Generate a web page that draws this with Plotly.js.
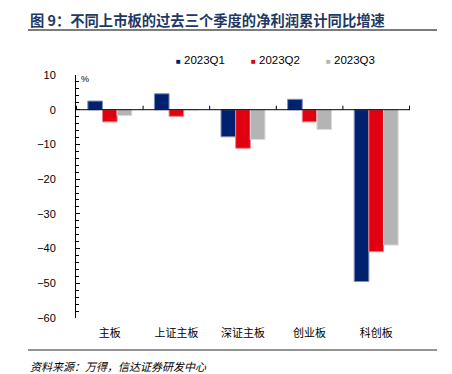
<!DOCTYPE html>
<html>
<head>
<meta charset="utf-8">
<script src="https://cdn.plot.ly/plotly-3.0.1.min.js"></script>
<style>html,body{margin:0;padding:0;background:#fff;}#chart{width:452px;height:374px;}</style>
</head>
<body>
<div id="chart"></div>
<script>
const categories = ["主板", "上证主板", "深证主板", "创业板", "科创板"];
const seriesNames = ["2023Q1", "2023Q2", "2023Q3"];
const q1 = [2.5, 4.6, -7.8, 3.0, -49.5];
const q2 = [-3.5, -1.9, -11.1, -3.5, -40.9];
const q3 = [-1.7, 0.0, -8.6, -5.7, -39.0];
const yTicks = [10, 0, -10, -20, -30, -40, -50, -60];
const yTickText = ["10", "0", "\u221210", "\u221220", "\u221230", "\u221240", "\u221250", "\u221260"];

const colors = ["#002070", "#e00010", "#b4b4b4"];
const edges = ["#8090c0", "#f08088", "#dcdcdc"];
const series = [q1, q2, q3];

const traces = series.map((vals, i) => ({
  type: "bar",
  name: seriesNames[i],
  x: categories,
  y: vals,
  marker: {color: colors[i], line: {color: edges[i], width: 1}},
  hoverinfo: "skip"
}));

const cjk = '"Noto Sans CJK SC", "Noto Sans", sans-serif';
const latin = '"Liberation Sans", Arial, sans-serif';

const shapes = [
  {type: "line", xref: "paper", yref: "paper", x0: -0.1437, x1: 1.081, y0: 1.185, y1: 1.185, line: {color: "#505050", width: 1.5}},
  {type: "line", xref: "paper", yref: "paper", x0: -0.1437, x1: 1.081, y0: -0.132, y1: -0.132, line: {color: "#707070", width: 1.5}},
  {type: "line", xref: "paper", yref: "y", x0: 0, x1: 1, y0: 0, y1: 0, line: {color: "#000", width: 1}, layer: "above"}
];
for (let k = 0; k <= categories.length; k++) {
  shapes.push({type: "line", xref: "x", yref: "y", ysizemode: "pixel", yanchor: 0,
    x0: k - 0.5, x1: k - 0.5, y0: 0, y1: 4, line: {color: "#000", width: 1}, layer: "above"});
}

const legendAnn = seriesNames.map((n, i) => ({
  xref: "paper", yref: "paper", x: (174 - 76) / 334 + i * 75 / 334, y: (318 - 60) / 243,
  xanchor: "left", yanchor: "middle", showarrow: false,
  text: '<span style="color:' + colors[i] + ';font-size:8px">\u25A0</span> ' + n,
  font: {family: latin, size: 11.5, color: "#000"}
}));

const layout = {
  width: 452, height: 374,
  margin: {l: 76, r: 42, t: 75, b: 56},
  paper_bgcolor: "#fff", plot_bgcolor: "#fff",
  showlegend: false,
  barmode: "group", bargap: 0.34, bargroupgap: 0,
  title: {text: "图 9：不同上市板的过去三个季度的净利润累计同比增速", xref: "container", yref: "container",
    x: 30 / 452, xanchor: "left", y: 1 - 21 / 374, yanchor: "middle",
    font: {family: cjk, size: 14.3, color: "#1f3864", weight: "bold"}},
  xaxis: {type: "category", showline: false, showgrid: false, zeroline: false, ticks: "",
    tickfont: {family: cjk, size: 11, color: "#000"}, ticklabelstandoff: 7, fixedrange: true},
  yaxis: {range: [-60, 10], tickvals: yTicks, ticktext: yTickText, showgrid: false, zeroline: false,
    showline: true, linecolor: "#000", linewidth: 1, ticks: "inside", ticklen: 4, tickcolor: "#000",
    minor: {dtick: 2, ticks: "inside", ticklen: 3, tickcolor: "#000"},
    tickfont: {family: latin, size: 11, color: "#000"}, ticklabelstandoff: 17, fixedrange: true},
  shapes: shapes,
  annotations: [
    ...legendAnn,
    {xref: "paper", yref: "paper", x: 0.008, y: 0.985, xanchor: "left", yanchor: "middle", showarrow: false,
      text: "%", font: {family: latin, size: 9, color: "#000"}},
    {xref: "paper", yref: "paper", x: (28 - 76) / 334, y: (318 - 366) / 243, xanchor: "left", yanchor: "middle",
      showarrow: false, text: "<i>资料来源：万得，信达证券研发中心</i>", font: {family: cjk, size: 11, color: "#000"}}
  ]
};

Plotly.newPlot("chart", traces, layout, {displayModeBar: false, staticPlot: true});
</script>
</body>
</html>
